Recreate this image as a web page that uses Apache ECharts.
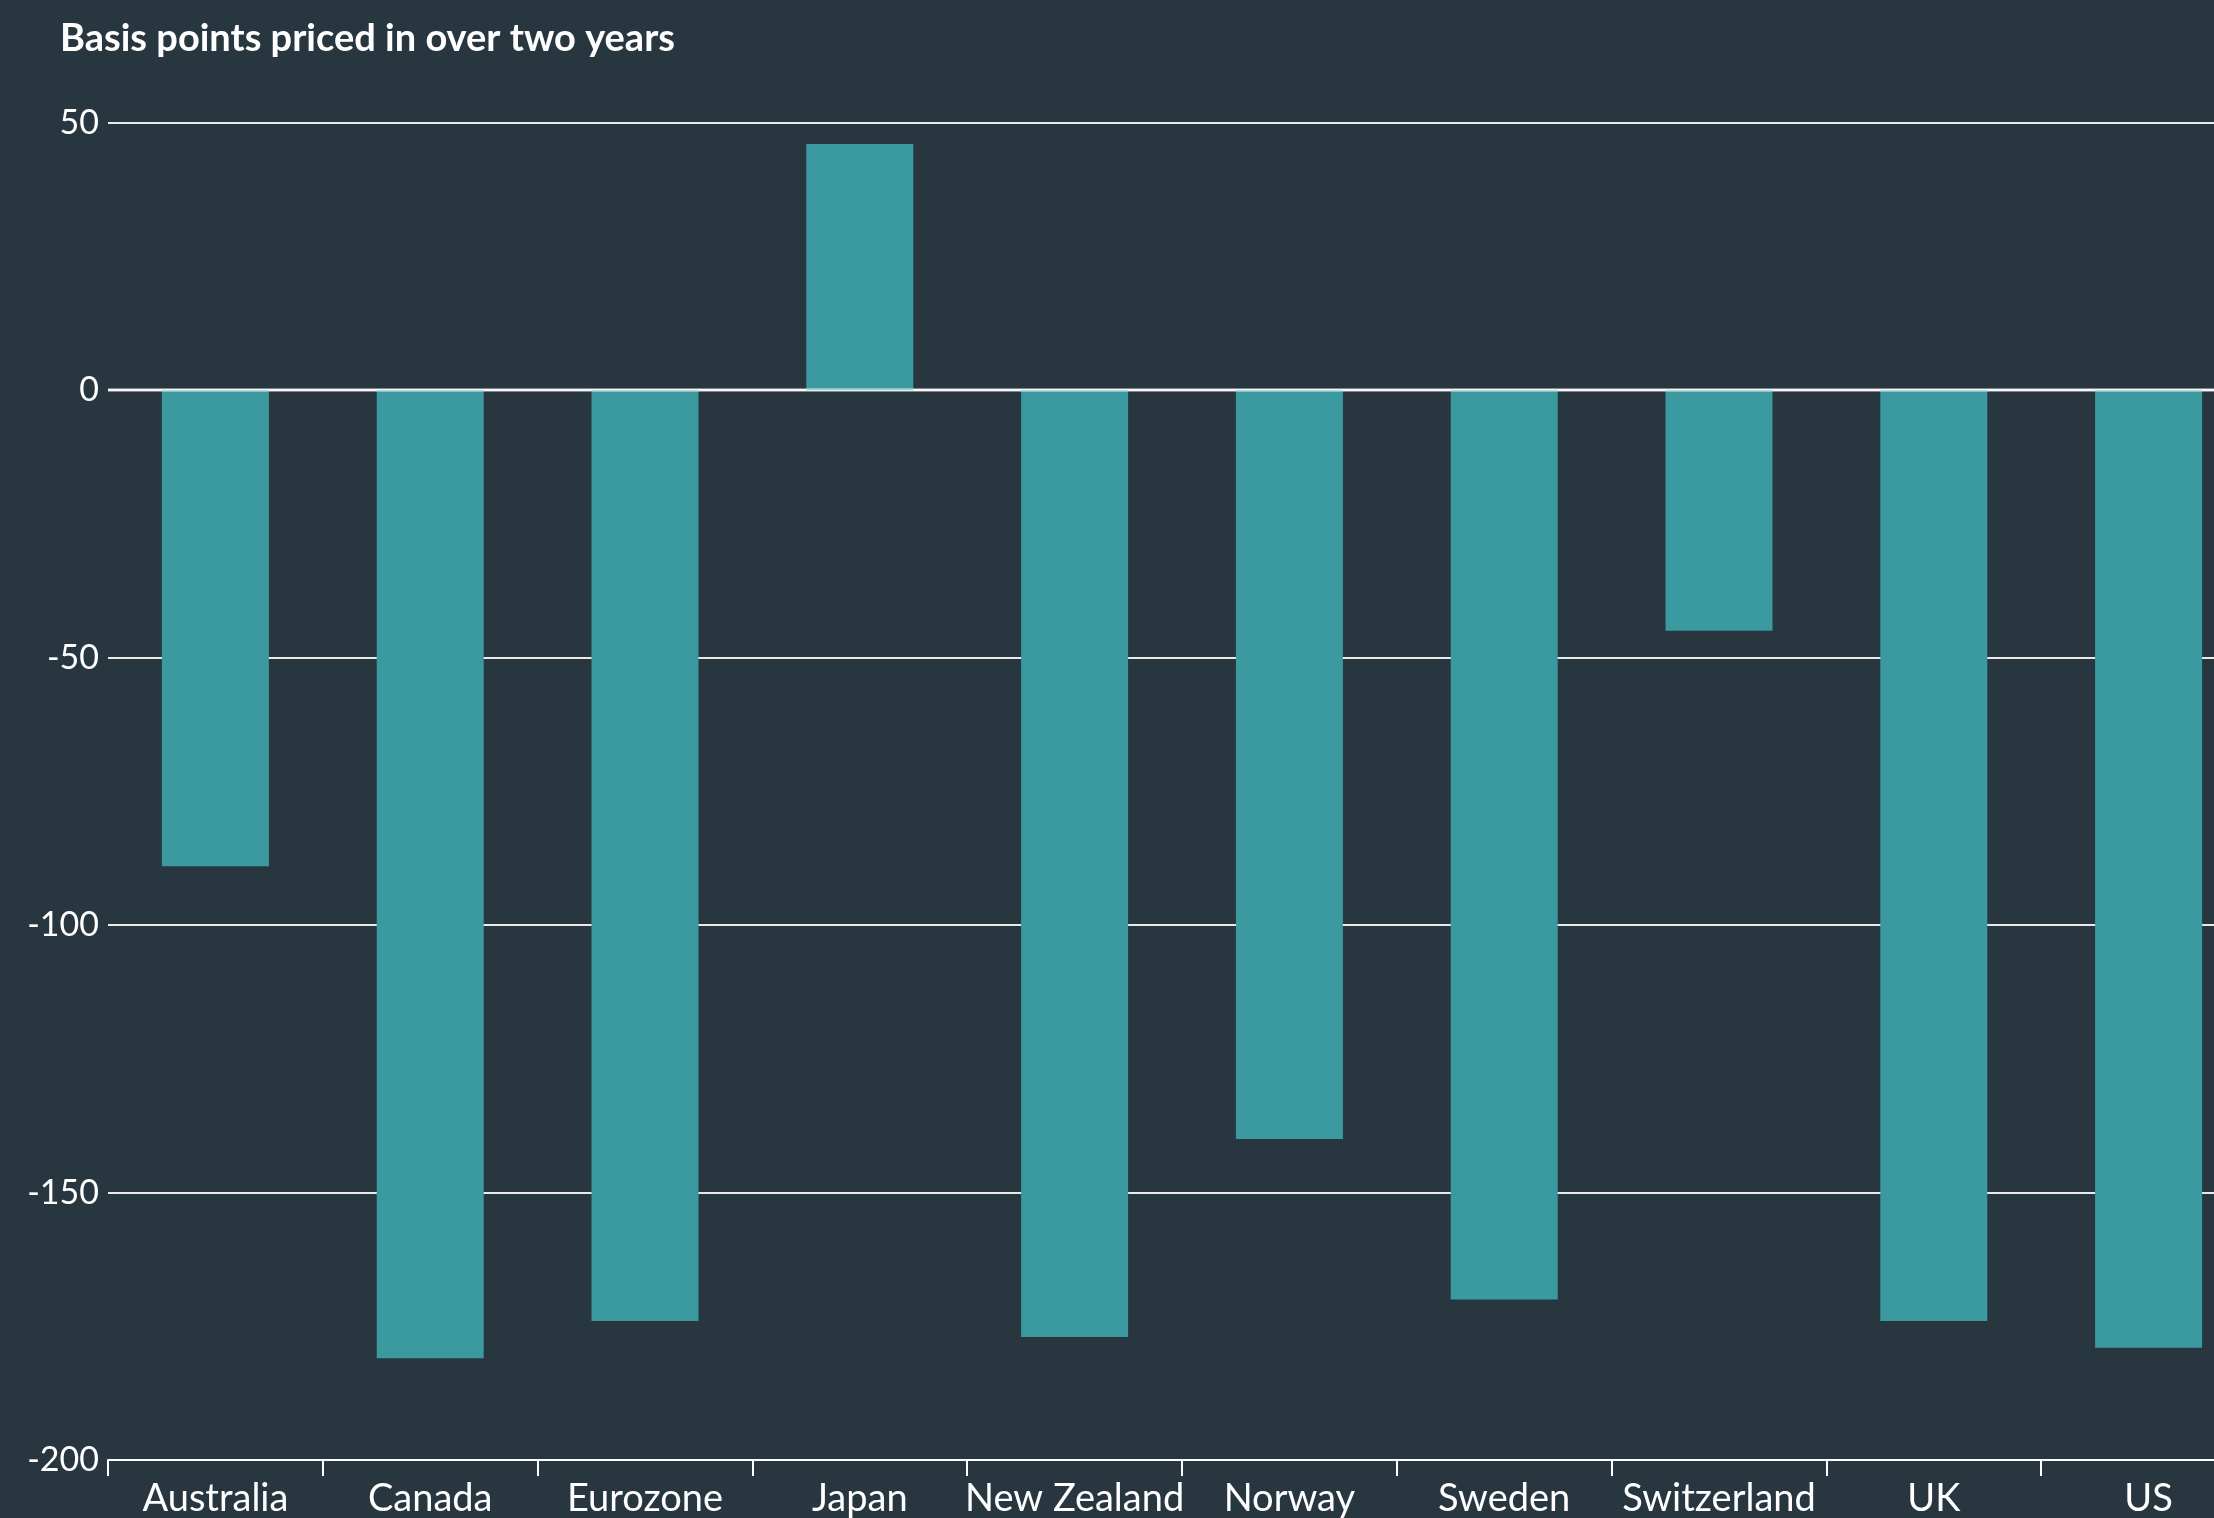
<!DOCTYPE html>
<html>
<head>
<meta charset="utf-8">
<script src="https://cdn.jsdelivr.net/npm/echarts@6/dist/echarts.min.js"></script>
<style>
  html, body { margin: 0; padding: 0; background: #283640; }
  #chart { width: 2214px; height: 1518px; }
</style>
</head>
<body>
<div id="chart"></div>
<script>
// Market-implied rate changes over the next two years, in basis points
const countries = ['Australia', 'Canada', 'Eurozone', 'Japan', 'New Zealand',
                   'Norway', 'Sweden', 'Switzerland', 'UK', 'US'];
const basisPoints = [-89, -181, -174, 46, -177, -140, -170, -45, -174, -179];

const yMin = -200;
const yMax = 50;
const yStep = 50;

const bg = '#283640';
const barColor = '#3a9aa0';
const ink = '#ffffff';
const font = 'Lato';

const chart = echarts.init(document.getElementById('chart'), null, { renderer: 'canvas' });

chart.setOption({
  backgroundColor: bg,
  animation: false,
  title: {
    text: 'Basis points priced in over two years',
    left: 55,
    top: 15,
    textStyle: { color: ink, fontFamily: font, fontWeight: 'bold', fontSize: 38 }
  },
  // the plot runs past the right edge of the canvas, so the last column is cut
  grid: {
    left: 108, width: 2148, top: 122.7, bottom: 58,
    containLabel: false, outerBoundsMode: 'none'
  },
  xAxis: {
    type: 'category',
    data: countries,
    boundaryGap: true,
    axisLine: { onZero: false, lineStyle: { color: ink, width: 2 } },
    axisTick: { show: true, length: 16, lineStyle: { color: ink, width: 2 } },
    axisLabel: { color: ink, fontFamily: font, fontSize: 38, margin: 20, interval: 0 },
    splitLine: { show: false }
  },
  yAxis: {
    type: 'value',
    min: yMin,
    max: yMax,
    interval: yStep,
    axisLine: { show: false },
    axisTick: { show: false },
    axisLabel: { color: ink, fontFamily: font, fontSize: 34, margin: 9 },
    splitLine: { show: true, lineStyle: { color: '#eaeaea', width: 2 } }
  },
  series: [{
    type: 'bar',
    data: basisPoints,
    barWidth: 107,
    itemStyle: { color: barColor },
    markLine: {
      silent: true,
      symbol: 'none',
      label: { show: false },
      lineStyle: { color: 'rgba(255,255,255,0.55)', width: 3.5, type: 'solid' },
      data: [{ yAxis: 0 }]
    }
  }]
});
</script>
</body>
</html>
